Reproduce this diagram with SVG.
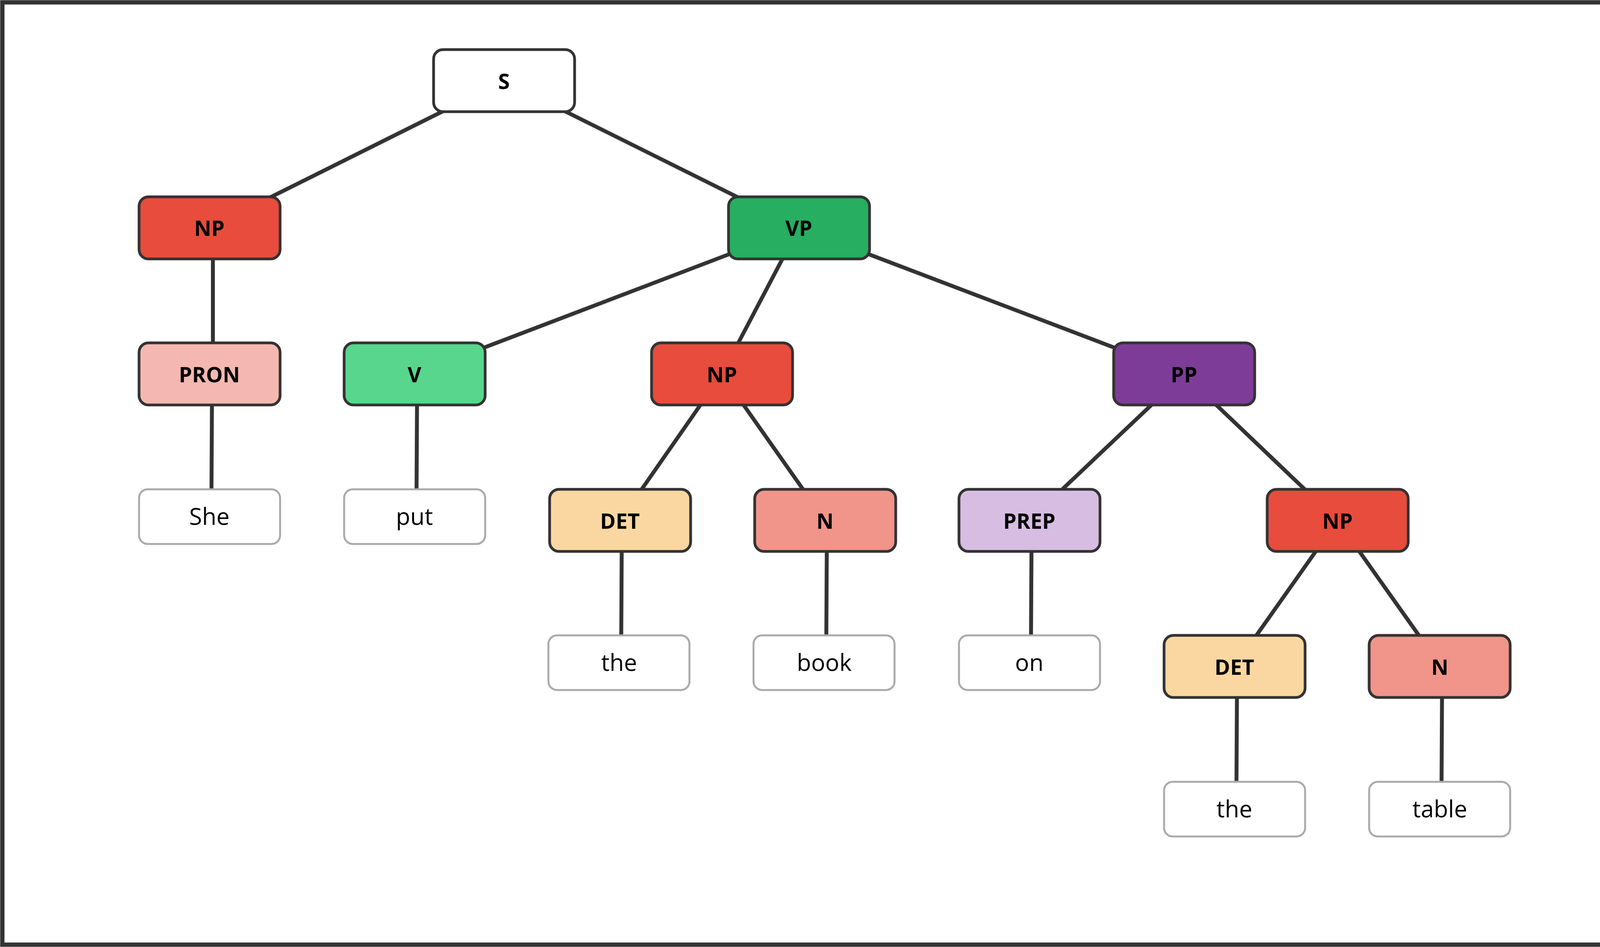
<svg xmlns="http://www.w3.org/2000/svg" width="4225" height="2425" viewBox="0 0 4225 2425">
<style>
.n{stroke:#333;stroke-width:7}
.w{fill:#fff;stroke:#aaa;stroke-width:5}
.t{font-family:"Open Sans","Noto Sans",sans-serif;font-weight:bold;font-size:54px;fill:#000;text-anchor:middle;dominant-baseline:central}
.tw{font-family:"Open Sans","Noto Sans",sans-serif;font-size:60px;fill:#000;text-anchor:middle;dominant-baseline:central}
#edges line{stroke:#333;stroke-width:10}
</style>
<rect x="6" y="6" width="4213" height="2413" fill="#fff" stroke="#333" stroke-width="11"/>
<g id="edges">
<line x1="1290" y1="207" x2="536" y2="583"/>
<line x1="1290" y1="207" x2="2045" y2="583"/>
<line x1="545" y1="583" x2="545" y2="958"/>
<line x1="2045" y1="583" x2="1061" y2="958"/>
<line x1="2045" y1="583" x2="1848" y2="958"/>
<line x1="2045" y1="583" x2="3031" y2="958"/>
<line x1="543" y1="958" x2="541" y2="1323"/>
<line x1="1068" y1="958" x2="1066" y2="1323"/>
<line x1="1848" y1="958" x2="1587" y2="1333"/>
<line x1="1848" y1="958" x2="2112" y2="1333"/>
<line x1="3031" y1="958" x2="2635" y2="1333"/>
<line x1="3031" y1="958" x2="3424" y2="1333"/>
<line x1="1592" y1="1333" x2="1590" y2="1697"/>
<line x1="2117" y1="1333" x2="2115" y2="1697"/>
<line x1="2641" y1="1333" x2="2639" y2="1697"/>
<line x1="3424" y1="1333" x2="3160" y2="1707"/>
<line x1="3424" y1="1333" x2="3689" y2="1707"/>
<line x1="3167" y1="1707" x2="3165" y2="2072"/>
<line x1="3692" y1="1707" x2="3690" y2="2072"/>
</g>
<g id="S"><rect class="n" fill="#fff" x="1110" y="127" width="361" height="159" rx="24"/><text class="t" x="1290" y="207">S</text></g>
<g id="NP1"><rect class="n" fill="#E74C3C" x="356" y="504" width="361" height="159" rx="24"/><text class="t" x="536" y="583">NP</text></g>
<g id="VP"><rect class="n" fill="#27AE60" x="1865" y="504" width="361" height="159" rx="24"/><text class="t" x="2045" y="583">VP</text></g>
<g id="PRON"><rect class="n" fill="#F5B7B1" x="356" y="878" width="361" height="159" rx="24"/><text class="t" x="536" y="958">PRON</text></g>
<g id="V"><rect class="n" fill="#58D68D" x="881" y="878" width="361" height="159" rx="24"/><text class="t" x="1061" y="958">V</text></g>
<g id="NP2"><rect class="n" fill="#E74C3C" x="1668" y="878" width="361" height="159" rx="24"/><text class="t" x="1848" y="958">NP</text></g>
<g id="PP"><rect class="n" fill="#7D3C98" x="2851" y="878" width="361" height="159" rx="24"/><text class="t" x="3031" y="958">PP</text></g>
<g id="She"><rect class="w" x="356" y="1253" width="361" height="140" rx="22"/><text class="tw" x="536" y="1321">She</text></g>
<g id="put"><rect class="w" x="881" y="1253" width="361" height="140" rx="22"/><text class="tw" x="1061" y="1321">put</text></g>
<g id="DET1"><rect class="n" fill="#FAD7A0" x="1407" y="1253" width="361" height="159" rx="24"/><text class="t" x="1587" y="1333">DET</text></g>
<g id="N1"><rect class="n" fill="#F1948A" x="1932" y="1253" width="361" height="159" rx="24"/><text class="t" x="2112" y="1333">N</text></g>
<g id="PREP"><rect class="n" fill="#D7BDE2" x="2455" y="1253" width="361" height="159" rx="24"/><text class="t" x="2635" y="1333">PREP</text></g>
<g id="NP3"><rect class="n" fill="#E74C3C" x="3244" y="1253" width="361" height="159" rx="24"/><text class="t" x="3424" y="1333">NP</text></g>
<g id="the1"><rect class="w" x="1404" y="1627" width="361" height="140" rx="22"/><text class="tw" x="1585" y="1695">the</text></g>
<g id="book"><rect class="w" x="1929" y="1627" width="361" height="140" rx="22"/><text class="tw" x="2110" y="1695">book</text></g>
<g id="on"><rect class="w" x="2455" y="1627" width="361" height="140" rx="22"/><text class="tw" x="2635" y="1695">on</text></g>
<g id="DET2"><rect class="n" fill="#FAD7A0" x="2980" y="1627" width="361" height="159" rx="24"/><text class="t" x="3160" y="1707">DET</text></g>
<g id="N2"><rect class="n" fill="#F1948A" x="3505" y="1627" width="361" height="159" rx="24"/><text class="t" x="3686" y="1707">N</text></g>
<g id="the2"><rect class="w" x="2980" y="2002" width="361" height="140" rx="22"/><text class="tw" x="3160" y="2070">the</text></g>
<g id="table"><rect class="w" x="3505" y="2002" width="361" height="140" rx="22"/><text class="tw" x="3686" y="2070">table</text></g>
</svg>
